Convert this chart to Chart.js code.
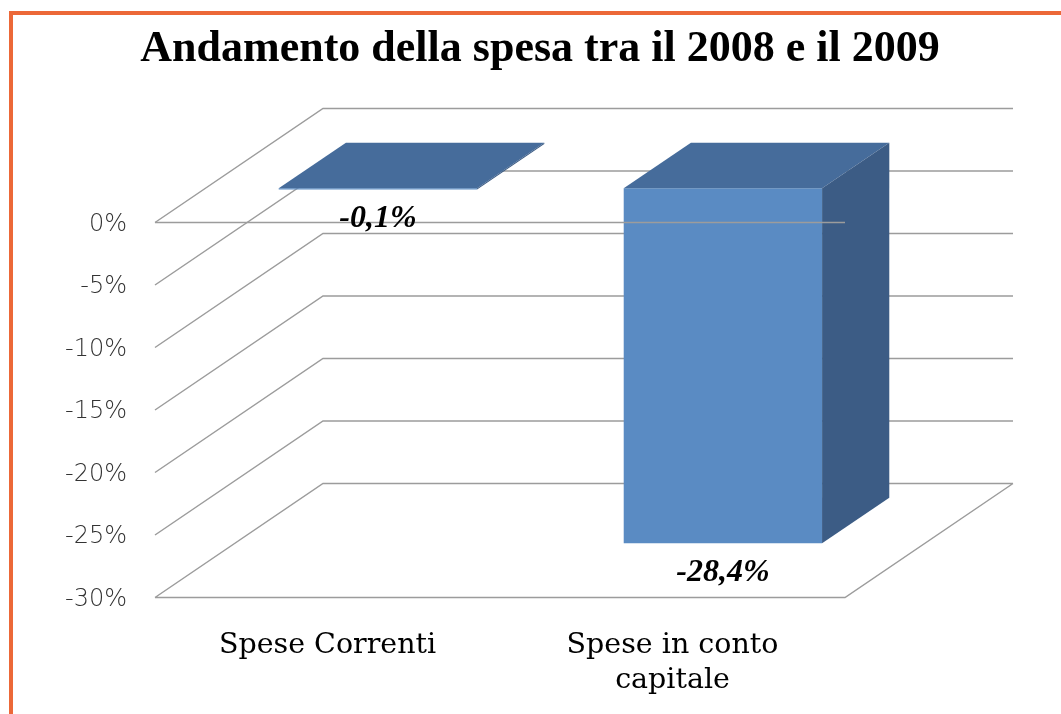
<!DOCTYPE html>
<html>
<head>
<meta charset="utf-8">
<script src="https://cdn.jsdelivr.net/npm/chart.js@4.4.0/dist/chart.umd.min.js"></script>
<style>
  html, body { margin: 0; padding: 0; background: #fff; }
</style>
</head>
<body>
<canvas id="chart" width="1061" height="714"></canvas>
<script>
const categories = ['Spese Correnti', ['Spese in conto', 'capitale']];
const changePct = [-0.1, -28.4];
const yTicks = [0, -5, -10, -15, -20, -25, -30];
const chartTitle = 'Andamento della spesa tra il 2008 e il 2009';

// fake 3d: depth of the box and where the bars sit in it
const WALL_DX = 168, WALL_DY = -114;
const BAR_FRONT = 0.3, BAR_DEPTH = 0.4;
const FRONT = '#5a8bc3', TOP = '#466c9b', SIDE = '#3c5c85';
const LINE = '#9c9c9c';

function fmt(v) { return v.toFixed(1).replace('.', ',') + '%' }

function poly(ctx, pts) {
  ctx.beginPath();
  pts.forEach((p, i) => i ? ctx.lineTo(p[0], p[1]) : ctx.moveTo(p[0], p[1]));
  ctx.closePath();
  ctx.fill();
}

const box3d = {
  id: 'box3d',
  beforeDraw(chart) {
    const c = chart.ctx;
    c.save();
    c.fillStyle = '#ec6838';
    c.fillRect(9, 11, chart.width - 9, 4);
    c.fillRect(9, 11, 4, chart.height - 11);
    c.restore();
  },
  beforeDatasetsDraw(chart) {
    const {ctx, chartArea: a, scales: {y}} = chart;
    ctx.save();
    ctx.strokeStyle = LINE;
    ctx.lineWidth = 1.5;
    ctx.beginPath();
    y.ticks.forEach(t => {
      const py = y.getPixelForValue(t.value);
      ctx.moveTo(a.left, py);
      ctx.lineTo(a.left + WALL_DX, py + WALL_DY);
      ctx.lineTo(a.right + WALL_DX, py + WALL_DY);
    });
    const yb = y.getPixelForValue(y.min);
    ctx.moveTo(a.left, yb);
    ctx.lineTo(a.right, yb);
    ctx.lineTo(a.right + WALL_DX, yb + WALL_DY);
    ctx.stroke();
    ctx.restore();
    // push the front faces back into the box
    ctx.save();
    ctx.translate(WALL_DX * BAR_FRONT, WALL_DY * BAR_FRONT);
  },
  afterDatasetsDraw(chart) {
    const {ctx, chartArea: a, scales: {y}} = chart;
    ctx.restore();
    const dx = WALL_DX * BAR_FRONT, dy = WALL_DY * BAR_FRONT;
    const ddx = WALL_DX * BAR_DEPTH, ddy = WALL_DY * BAR_DEPTH;
    const bars = chart.getDatasetMeta(0).data;
    ctx.save();
    bars.forEach(bar => {
      const p = bar.getProps(['x', 'y', 'base', 'width'], true);
      const l = p.x - p.width / 2 + dx, r = p.x + p.width / 2 + dx;
      const top = Math.min(p.y, p.base) + dy, bot = Math.max(p.y, p.base) + dy;
      ctx.fillStyle = TOP;
      poly(ctx, [[l, top], [r, top], [r + ddx, top + ddy], [l + ddx, top + ddy]]);
      ctx.fillStyle = SIDE;
      poly(ctx, [[r, top], [r + ddx, top + ddy], [r + ddx, bot + ddy], [r, bot]]);
    });
    // the 0% line runs in front of everything
    const y0 = y.getPixelForValue(0);
    ctx.strokeStyle = LINE;
    ctx.lineWidth = 1.5;
    ctx.beginPath();
    ctx.moveTo(a.left, y0);
    ctx.lineTo(a.right, y0);
    ctx.stroke();
    // value labels
    ctx.fillStyle = '#000';
    ctx.font = 'bold italic 32px "Liberation Serif"';
    ctx.textAlign = 'center';
    ctx.textBaseline = 'middle';
    bars.forEach((bar, i) => {
      const p = bar.getProps(['x', 'y'], true);
      ctx.fillText(fmt(changePct[i]), p.x + dx, p.y + dy + 29);
    });
    ctx.restore();
  }
};

new Chart(document.getElementById('chart'), {
  type: 'bar',
  data: {
    labels: categories,
    datasets: [{
      data: changePct,
      backgroundColor: FRONT,
      barPercentage: 1,
      categoryPercentage: 0.575,
      clip: false
    }]
  },
  options: {
    responsive: false,
    animation: false,
    layout: { padding: { left: 19 } },
    plugins: {
      legend: { display: false },
      tooltip: { enabled: false },
      title: {
        display: true,
        text: chartTitle,
        color: '#000',
        font: { family: 'Liberation Serif', size: 44, weight: 'bold' },
        padding: { top: 23.6, bottom: 146.1 }
      }
    },
    scales: {
      x: {
        grid: { display: false },
        border: { display: false },
        ticks: {
          color: '#000',
          font: { family: 'DejaVu Serif', size: 28.5, lineHeight: 1.25 },
          padding: 22,
          maxRotation: 0
        },
        afterFit(s) { s.height = 116.5 }
      },
      y: {
        min: -30,
        max: 0,
        grid: { display: false },
        border: { display: false },
        afterBuildTicks(s) { s.ticks = yTicks.map(v => ({ value: v })) },
        ticks: {
          color: '#333',
          font: { family: 'DejaVu Sans', size: 24, weight: '200' },
          padding: 20,
          labelOffset: 2,
          callback: v => v + '%'
        },
        afterFit(s) { s.width = 136 }
      },
      // empty axis on the right, only keeps room for the depth of the box
      y2: {
        type: 'linear',
        position: 'right',
        grid: { display: false },
        border: { display: false },
        ticks: { display: false },
        afterFit(s) { s.width = 216 }
      }
    }
  },
  plugins: [box3d]
});
</script>
</body>
</html>
